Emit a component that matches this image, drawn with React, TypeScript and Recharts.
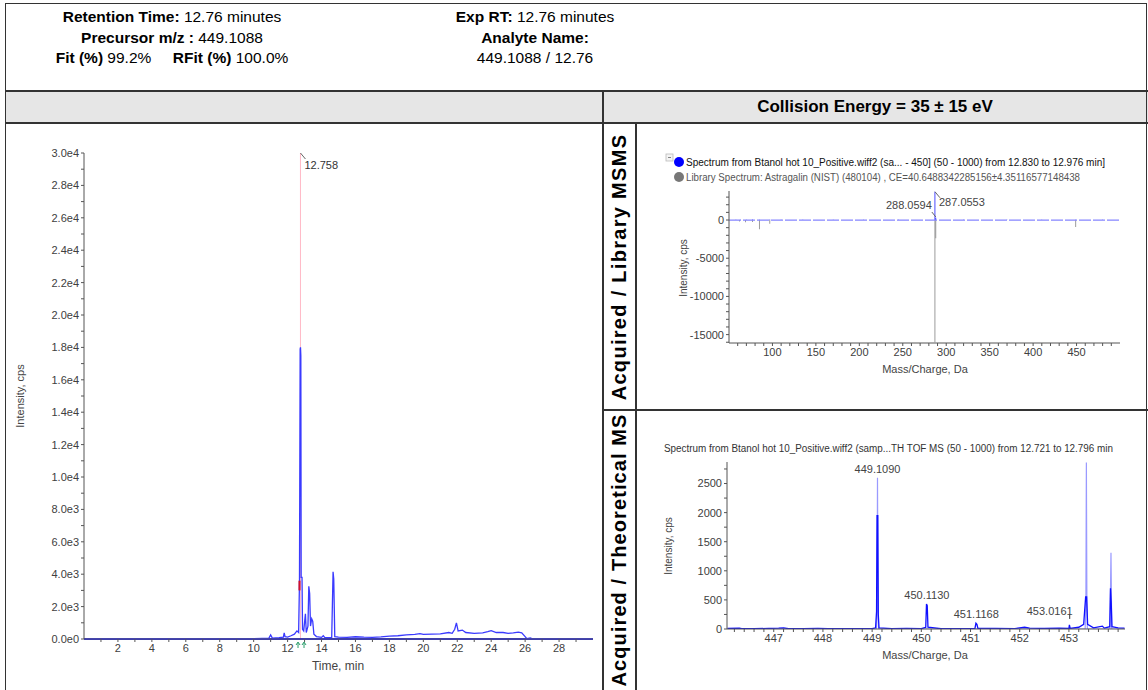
import React from 'react';
import {
  LineChart, ComposedChart, Line, Bar, XAxis, YAxis,
  ReferenceLine, ReferenceDot,
} from 'recharts';

const FONT = '"Liberation Sans", Arial, Helvetica, sans-serif';

// XIC of 449.1088 (time min, intensity cps)
const xicTrace: [number, number][] = [
  [0.1, 20], [2, 20], [4, 20], [6, 20], [8, 20], [10, 20], [10.5, 40], [10.9, 60],
  [11.0, 250], [11.1, 60], [11.5, 80], [11.75, 120], [11.8, 380], [11.85, 150],
  [12.0, 120], [12.2, 200], [12.4, 300], [12.55, 500], [12.65, 400], [12.7, 3500],
  [12.74, 17900], [12.76, 18000], [12.78, 17500], [12.8, 3800], [12.85, 3800],
  [12.88, 600], [12.95, 500], [13.05, 1550], [13.1, 400], [13.2, 800], [13.25, 3250],
  [13.3, 2800], [13.35, 800], [13.42, 1250], [13.48, 1100], [13.55, 300], [13.7, 150],
  [14.0, 100], [14.1, 200], [14.2, 80], [14.6, 100], [14.68, 4150], [14.72, 3700],
  [14.78, 150], [15, 120], [15.5, 100], [16, 140], [16.5, 110], [17, 100], [17.5, 130],
  [18, 180], [18.5, 200], [19, 250], [19.5, 280], [19.8, 330], [20, 280], [20.5, 300],
  [21, 320], [21.5, 400], [21.7, 350], [21.85, 600], [21.95, 1000], [22.05, 500],
  [22.3, 550], [22.5, 400], [23, 350], [23.5, 380], [23.8, 450], [24, 520], [24.3, 400],
  [24.7, 400], [25, 350], [25.3, 380], [25.6, 420], [25.8, 380], [26, 150], [26.1, 20],
  [26.3, 60], [26.4, 20], [28, 20], [30, 20],
];
const xicApexTime = 12.758;
const xicApexLabel = '12.758';
const xicMarker = { t: 12.7, lo: 3000, hi: 3600 };
const xicTimeTicks = [1, 2, 3, 4, 5, 6, 7, 8, 9, 10, 11, 12, 13, 14, 15, 16, 17, 18, 19, 20, 21, 22, 23, 24, 25, 26, 27, 28, 29];
const xicIntensityTicks = [
  0, 1000, 2000, 3000, 4000, 5000, 6000, 7000, 8000, 9000, 10000, 11000, 12000, 13000, 14000, 15000,
  16000, 17000, 18000, 19000, 20000, 21000, 22000, 23000, 24000, 25000, 26000, 27000, 28000, 29000, 30000,
];

// MS/MS mirror plot: acquired (up) vs library Astragalin (down)
const msmsAcquired: [number, number][] = [
  [58, 30], [63, 50], [70, 40], [77, 60], [85, 50], [97, 80], [110, 30], [135, 40], [170, 30],
  [205, 30], [245, 40], [287.0553, 3700], [288.0594, 300], [320, 30], [370, 30], [410, 30],
  [449.1, 40], [480, 30],
];
const msmsLibrary: [number, number][] = [
  [62, -200], [69, -300], [77, -250], [85, -1200], [97, -500],
  [287.0553, -16000], [288.0594, -2400], [449.1, -900],
];
const msmsMzTicks = [
  60, 70, 80, 90, 100, 110, 120, 130, 140, 150, 160, 170, 180, 190, 200, 210, 220, 230, 240, 250,
  260, 270, 280, 290, 300, 310, 320, 330, 340, 350, 360, 370, 380, 390, 400, 410, 420, 430, 440,
  450, 460, 470, 480, 490,
];
const msmsIntensityTicks = [
  3000, 2000, 1000, 0, -1000, -2000, -3000, -4000, -5000, -6000, -7000, -8000, -9000, -10000,
  -11000, -12000, -13000, -14000, -15000, -16000,
];

// TOF MS around the precursor
const msProfile: [number, number][] = [
  [446.06, 10], [446.3, 15], [446.35, 5], [446.6, 5], [446.9, 10], [447.1, 15], [447.2, 20],
  [447.3, 5], [447.6, 5], [447.9, 10], [448.1, 5], [448.4, 5], [448.7, 8], [449.0, 5],
  [449.07, 20], [449.09, 300], [449.1, 1950], [449.115, 1950], [449.125, 250], [449.14, 20],
  [449.4, 5], [449.7, 10], [450.0, 5], [450.09, 30], [450.105, 430], [450.12, 400],
  [450.135, 30], [450.4, 5], [450.8, 8], [451.09, 10], [451.11, 100], [451.13, 80],
  [451.15, 10], [451.5, 10], [451.9, 8], [452.1, 30], [452.2, 15], [452.5, 10], [452.8, 15],
  [453.0, 10], [453.01, 70], [453.025, 10], [453.2, 30], [453.3, 80], [453.34, 550],
  [453.36, 550], [453.38, 80], [453.5, 20], [453.68, 50], [453.72, 15], [453.83, 40],
  [453.845, 700], [453.86, 450], [453.875, 40], [454.0, 20], [454.13, 15],
];
const msTheoretical: [number, number][] = [
  [446.06, 0], [449.085, 0], [449.1, 300], [449.109, 2600], [449.12, 300], [449.13, 0],
  [453.33, 0], [453.345, 500], [453.355, 2860], [453.365, 500], [453.375, 0],
  [453.835, 0], [453.855, 1310], [453.87, 0], [454.13, 0],
];
const msPeakMz = [449.109, 450.113, 451.1168, 453.0161];
const msPeakTop = [2600, 430, 100, 70];
const msMzTicks = [
  446.2, 446.4, 446.6, 446.8, 447, 447.2, 447.4, 447.6, 447.8, 448, 448.2, 448.4, 448.6, 448.8,
  449, 449.2, 449.4, 449.6, 449.8, 450, 450.2, 450.4, 450.6, 450.8, 451, 451.2, 451.4, 451.6,
  451.8, 452, 452.2, 452.4, 452.6, 452.8, 453, 453.2, 453.4, 453.6, 453.8, 454,
];
const msMzLabels = [447, 448, 449, 450, 451, 452, 453];
const msIntensityTicks = [0, 250, 500, 750, 1000, 1250, 1500, 1750, 2000, 2250, 2500, 2750];

const xicRows = xicTrace.map(([t, i]) => ({ t, i }));
const mzSet = Array.from(new Set([...msmsAcquired.map((p) => p[0]), ...msmsLibrary.map((p) => p[0])])).sort((a, b) => a - b);
const msmsRows = mzSet.map((mz) => ({
  mz,
  acq: msmsAcquired.find((p) => p[0] === mz)?.[1] ?? 0,
  lib: msmsLibrary.find((p) => p[0] === mz)?.[1] ?? 0,
}));
const msProfileRows = msProfile.map(([mz, v]) => ({ mz, v }));
const msTheoRows = msTheoretical.map(([mz, v]) => ({ mz, v }));

const tickStyle = { fontSize: 11, fill: '#404040', fontFamily: FONT };
const axisStroke = '#555';

const sciLabel = (v: number) => (v % 2000 === 0 ? v.toExponential(1).replace('+', '') : '');

function Abs({ left, top, width, height, style, children }: any) {
  return (
    <div style={{ position: 'absolute', left, top, width, height, ...style }}>{children}</div>
  );
}

function FitText({ x, y, w, text, size = 10, color = '#222', weight = 400 }: any) {
  return (
    <svg style={{ position: 'absolute', left: x, top: y - size, overflow: 'visible' }} width={w} height={size + 4}>
      <text x={0} y={size} fontSize={size} fill={color} fontWeight={weight} fontFamily={FONT}
        textLength={w} lengthAdjust="spacingAndGlyphs">{text}</text>
    </svg>
  );
}

function VText({ cx, cy, text, size = 11, weight = 400, color = '#444', spacing = 0 }: any) {
  return (
    <div style={{
      position: 'absolute', left: cx, top: cy, transform: 'translate(-50%, -50%) rotate(-90deg)',
      whiteSpace: 'nowrap', fontSize: size, fontWeight: weight, color, fontFamily: FONT, letterSpacing: spacing,
    }}>{text}</div>
  );
}

function HeaderLine({ cx, cy, parts }: any) {
  return (
    <div style={{
      position: 'absolute', left: cx, top: cy, transform: 'translate(-50%, -50%)', whiteSpace: 'nowrap',
      fontSize: 15.5, fontFamily: FONT, color: '#000',
    }}>
      {parts.map((p: any, i: number) => (
        <span key={i} style={{ fontWeight: p.b ? 700 : 400 }}>{p.t}</span>
      ))}
    </div>
  );
}

const line = '#333';

export default function App() {
  return (
    <div style={{ position: 'absolute', left: 0, top: 0, width: 1148, height: 690, background: '#fff', overflow: 'hidden', fontFamily: FONT }}>
      {/* table frame */}
      <Abs left={5} top={91} width={1143} height={32} style={{ background: '#e6e6e6' }} />
      <Abs left={5} top={3} width={1140} height={686} style={{ border: `1.5px solid ${line}` }} />
      <Abs left={5} top={90} width={1143} height={1.5} style={{ background: line }} />
      <Abs left={5} top={122} width={1143} height={1.5} style={{ background: line }} />
      <Abs left={602} top={91} width={1.5} height={599} style={{ background: line }} />
      <Abs left={635} top={123} width={1.5} height={567} style={{ background: line }} />
      <Abs left={603} top={409} width={545} height={1.5} style={{ background: line }} />

      {/* header */}
      <HeaderLine cx={172} cy={17} parts={[{ t: 'Retention Time: ', b: true }, { t: '12.76 minutes' }]} />
      <HeaderLine cx={172} cy={38} parts={[{ t: 'Precursor m/z : ', b: true }, { t: '449.1088' }]} />
      <HeaderLine cx={172} cy={58} parts={[{ t: 'Fit (%) ', b: true }, { t: '99.2%\u00a0\u00a0\u00a0\u00a0\u00a0' }, { t: 'RFit (%) ', b: true }, { t: '100.0%' }]} />
      <HeaderLine cx={535} cy={17} parts={[{ t: 'Exp RT: ', b: true }, { t: '12.76 minutes' }]} />
      <HeaderLine cx={535} cy={38} parts={[{ t: 'Analyte Name:', b: true }]} />
      <HeaderLine cx={535} cy={58} parts={[{ t: '449.1088 / 12.76' }]} />
      <div style={{
        position: 'absolute', left: 875, top: 107, transform: 'translate(-50%, -50%)', whiteSpace: 'nowrap',
        fontSize: 17, fontWeight: 700, fontFamily: FONT,
      }}>Collision Energy = 35 ± 15 eV</div>

      <VText cx={619} cy={267} text="Acquired / Library MSMS" size={20} weight={700} color="#000" spacing={1.3} />
      <VText cx={619} cy={550} text="Acquired / Theoretical MS" size={20} weight={700} color="#000" spacing={1.1} />

      {/* chromatogram */}
      <div style={{ position: 'absolute', left: 0, top: 124 }}>
        <LineChart width={603} height={566} data={xicRows} margin={{ top: 29, right: 10, bottom: 21, left: 20 }}>
          <XAxis dataKey="t" type="number" domain={[0, 30]} ticks={xicTimeTicks} interval={0}
            tickFormatter={(v: number) => (v % 2 === 0 ? String(v) : '')}
            tick={tickStyle} tickSize={3} stroke={axisStroke} height={30} allowDataOverflow />
          <YAxis type="number" domain={[0, 30000]} ticks={xicIntensityTicks} interval={0}
            tickFormatter={sciLabel} tick={tickStyle} tickSize={3} stroke={axisStroke} width={64} allowDataOverflow />
          <ReferenceLine x={xicApexTime} stroke="#ffb8c6" strokeWidth={1} />
          <ReferenceLine y={0} stroke="#2b2bff" strokeWidth={2} />
          <Line dataKey="i" type="linear" stroke="#3a3aff" strokeWidth={1.3} dot={false} isAnimationActive={false} />
          <ReferenceLine segment={[{ x: xicMarker.t, y: xicMarker.lo }, { x: xicMarker.t, y: xicMarker.hi }]} stroke="#d0102a" strokeWidth={2} />
          <ReferenceDot x={xicApexTime} y={30000} r={0}
            shape={(p: any) => (
              <g>
                <line x1={p.cx} y1={p.cy} x2={p.cx + 5} y2={p.cy + 6} stroke="#666" />
                <text x={p.cx + 4} y={p.cy + 16} fontSize={11} fill="#333" fontFamily={FONT}>{xicApexLabel}</text>
              </g>
            )} />
          <ReferenceDot x={12.85} y={0} r={0}
            shape={(p: any) => (
              <g stroke="#2a9d6a" strokeWidth={1} fill="none">
                <path d={`M${p.cx - 4},${p.cy + 9} L${p.cx - 4},${p.cy + 4} M${p.cx - 6},${p.cy + 6} L${p.cx - 4},${p.cy + 3} L${p.cx - 2},${p.cy + 6}`} />
                <path d={`M${p.cx + 2},${p.cy + 9} L${p.cx + 2},${p.cy + 4} M${p.cx},${p.cy + 6} L${p.cx + 2},${p.cy + 3} L${p.cx + 4},${p.cy + 6}`} />
              </g>
            )} />
        </LineChart>
      </div>
      <VText cx={20} cy={396} text="Intensity, cps" size={11} />
      <div style={{ position: 'absolute', left: 338, top: 666, transform: 'translate(-50%, -50%)', fontSize: 12, color: '#444', whiteSpace: 'nowrap' }}>Time, min</div>

      {/* MS/MS mirror plot */}
      <svg style={{ position: 'absolute', left: 665, top: 150 }} width={20} height={35}>
        <rect x={1} y={4} width={7} height={7} fill="#f4f4f4" stroke="#bbb" strokeWidth={0.8} />
        <line x1={3} y1={7.5} x2={6} y2={7.5} stroke="#666" strokeWidth={0.8} />
        <circle cx={14} cy={12} r={5} fill="#0000ff" />
        <circle cx={14} cy={27} r={5} fill="#777" />
      </svg>
      <FitText x={686} y={166} w={419} size={10} color="#111"
        text="Spectrum from Btanol hot 10_Positive.wiff2 (sa... - 450] (50 - 1000) from 12.830 to 12.976 min]" />
      <FitText x={686} y={181} w={394} size={10} color="#555"
        text="Library Spectrum: Astragalin (NIST) (480104) , CE=40.6488342285156±4.35116577148438" />
      <div style={{ position: 'absolute', left: 636, top: 124 }}>
        <ComposedChart width={512} height={286} data={msmsRows} stackOffset="sign"
          margin={{ top: 67, right: 28, bottom: 42, left: 43 }}>
          <XAxis dataKey="mz" type="number" domain={[50, 500]} ticks={msmsMzTicks} interval={0}
            tickFormatter={(v: number) => (v % 50 === 0 ? String(v) : '')}
            tick={tickStyle} tickSize={3} stroke={axisStroke} height={25} allowDataOverflow />
          <YAxis type="number" domain={[-16100, 3800]} ticks={msmsIntensityTicks} interval={0}
            tickFormatter={(v: number) => (v % 5000 === 0 ? String(v) : '')}
            tick={tickStyle} tickSize={3} stroke={axisStroke} width={50} allowDataOverflow />
          <ReferenceLine y={0} stroke="#8585ff" strokeWidth={1.2} strokeDasharray="12 2" />
          <Bar dataKey="acq" stackId="s" fill="#1a1aff" barSize={1.5} isAnimationActive={false} />
          <Bar dataKey="lib" stackId="s" fill="#808080" barSize={1.5} isAnimationActive={false} />
          <ReferenceDot x={287.0553} y={3700} r={0}
            shape={(p: any) => (
              <g>
                <line x1={p.cx} y1={p.cy} x2={p.cx + 5} y2={p.cy + 6} stroke="#666" />
                <text x={p.cx + 4} y={p.cy + 14} fontSize={11} fill="#444" fontFamily={FONT}>287.0553</text>
              </g>
            )} />
          <ReferenceDot x={288.0594} y={0} r={0}
            shape={(p: any) => (
              <g>
                <line x1={p.cx - 4} y1={p.cy - 8} x2={p.cx} y2={p.cy - 3} stroke="#666" />
                <text x={p.cx - 4} y={p.cy - 11} textAnchor="end" fontSize={11} fill="#444" fontFamily={FONT}>288.0594</text>
              </g>
            )} />
        </ComposedChart>
      </div>
      <VText cx={683} cy={268} text="Intensity, cps" size={10} />
      <div style={{ position: 'absolute', left: 925, top: 369, transform: 'translate(-50%, -50%)', fontSize: 11, color: '#444', whiteSpace: 'nowrap' }}>Mass/Charge, Da</div>

      {/* TOF MS */}
      <FitText x={664} y={452} w={449} size={10} color="#333"
        text="Spectrum from Btanol hot 10_Positive.wiff2 (samp...TH TOF MS (50 - 1000) from 12.721 to 12.796 min" />
      <div style={{ position: 'absolute', left: 636, top: 411 }}>
        <LineChart width={512} height={279} margin={{ top: 51, right: 23, bottom: 36, left: 41 }}>
          <XAxis dataKey="mz" type="number" domain={[446.05, 454.14]} ticks={msMzTicks} interval={0}
            tickFormatter={(v: number) => {
              const lab = msMzLabels.find((m) => Math.abs(m - v) < 1e-6);
              return lab !== undefined ? String(lab) : '';
            }}
            tick={tickStyle} tickSize={3} stroke={axisStroke} height={25} allowDataOverflow />
          <YAxis type="number" domain={[0, 2870]} ticks={msIntensityTicks} interval={0}
            tickFormatter={(v: number) => (v % 500 === 0 ? String(v) : '')}
            tick={tickStyle} tickSize={3} stroke={axisStroke} width={50} allowDataOverflow />
          <Line data={msTheoRows} dataKey="v" type="linear" stroke="#9a9aff" strokeWidth={1.2} dot={false} isAnimationActive={false} />
          <Line data={msProfileRows} dataKey="v" type="linear" stroke="#1010ff" strokeWidth={1.3} dot={false} isAnimationActive={false} />
          {msPeakMz.map((mz, i) => (
            <ReferenceDot key={mz} x={mz} y={msPeakTop[i]} r={0}
              shape={(p: any) => (
                <g>
                  {i === 3 && <line x1={p.cx} y1={p.cy - 10} x2={p.cx} y2={p.cy - 6} stroke="#333" />}
                  <text x={i === 3 ? p.cx - 20 : p.cx} y={i === 3 ? p.cy - 10 : p.cy - 5} textAnchor="middle"
                    fontSize={11} fill="#444" fontFamily={FONT}>{mz.toFixed(4)}</text>
                </g>
              )} />
          ))}
        </LineChart>
      </div>
      <VText cx={668} cy={546} text="Intensity, cps" size={10} />
      <div style={{ position: 'absolute', left: 925, top: 655, transform: 'translate(-50%, -50%)', fontSize: 11, color: '#444', whiteSpace: 'nowrap' }}>Mass/Charge, Da</div>
    </div>
  );
}
